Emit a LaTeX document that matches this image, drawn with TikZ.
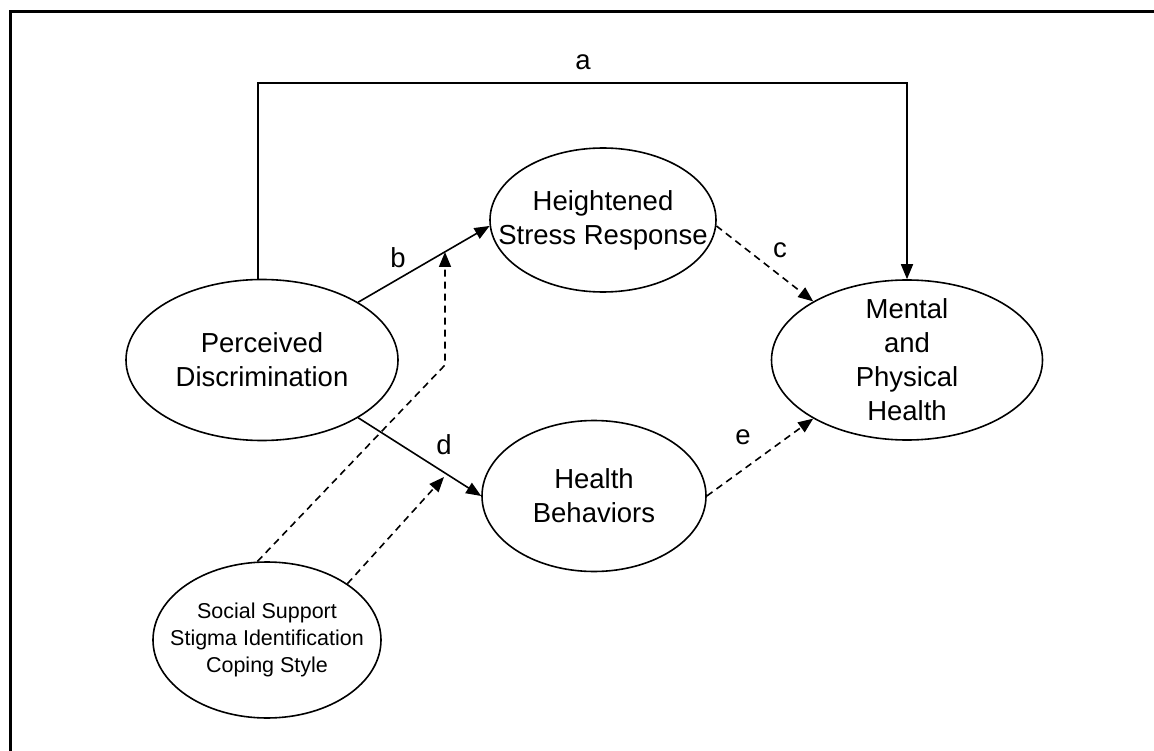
\documentclass[tikz,border=0pt]{standalone}
\usepackage{fontspec}
\setmainfont{Liberation Sans}
\usetikzlibrary{arrows.meta,shapes.geometric}
\begin{document}
\begin{tikzpicture}[x=1pt,y=-1pt,
  ell/.style={draw, ellipse, line width=1.6pt, inner sep=0pt},
  txt/.style={align=center, font=\fontsize{27.5}{34}\selectfont, inner sep=0pt},
  sm/.style={align=center, font=\fontsize{21.5}{27}\selectfont, inner sep=0pt},
  conn/.style={line width=1.6pt, -{Triangle[length=15pt,width=12pt]}},
  dconn/.style={conn, dash pattern=on 7pt off 5pt},
  lab/.style={font=\fontsize{27.5}{34}\selectfont, inner sep=0pt}]
\useasboundingbox (0,0) rectangle (1154,751);
\draw[line width=2.6pt] (10.5,751) -- (10.5,11.5) -- (1154,11.5);

\node[ell, minimum width=272pt, minimum height=161pt,
  label={[txt]center:{Perceived\\Discrimination}}] (pd) at (262,360) {};
\node[ell, minimum width=226pt, minimum height=144pt,
  label={[txt]center:{Heightened\\Stress Response}}] (hsr) at (603,220) {};
\node[ell, minimum width=224pt, minimum height=151pt,
  label={[txt]center:{Health\\Behaviors}}] (hb) at (594,496) {};
\node[ell, minimum width=271pt, minimum height=160pt,
  label={[txt]center:{Mental\\and\\Physical\\Health}}] (mh) at (907,360) {};
\node[ell, minimum width=228pt, minimum height=156pt,
  label={[sm]center:{Social Support\\Stigma Identification\\Coping Style}}] (mod) at (267,640) {};

\coordinate (atop) at (583,83);
\draw[conn] (pd.93) |- (atop) -| (mh.north);
\node[lab] (la) at (583,62) {a};

\draw[conn] (pd.31) -- (hsr.183);
\node[lab] (lb) at (398,258) {b};

\draw[conn] (pd.-31) -- (hb.west);
\node[lab] (ld) at (444,445) {d};

\draw[dconn] (hsr.-3) -- (mh.148);
\node[lab] (lc) at (780,250) {c};

\draw[dconn] (hb.east) -- (mh.212);
\node[lab] (le) at (743,437) {e};

\coordinate (bk) at (445,365);
\coordinate (bt) at (445,252);
\coordinate (dt) at (444,477);
\draw[dconn] (mod.97) -- (bk) -- (bt);
\draw[dconn] (mod.35) -- (dt);
\end{tikzpicture}
\end{document}
